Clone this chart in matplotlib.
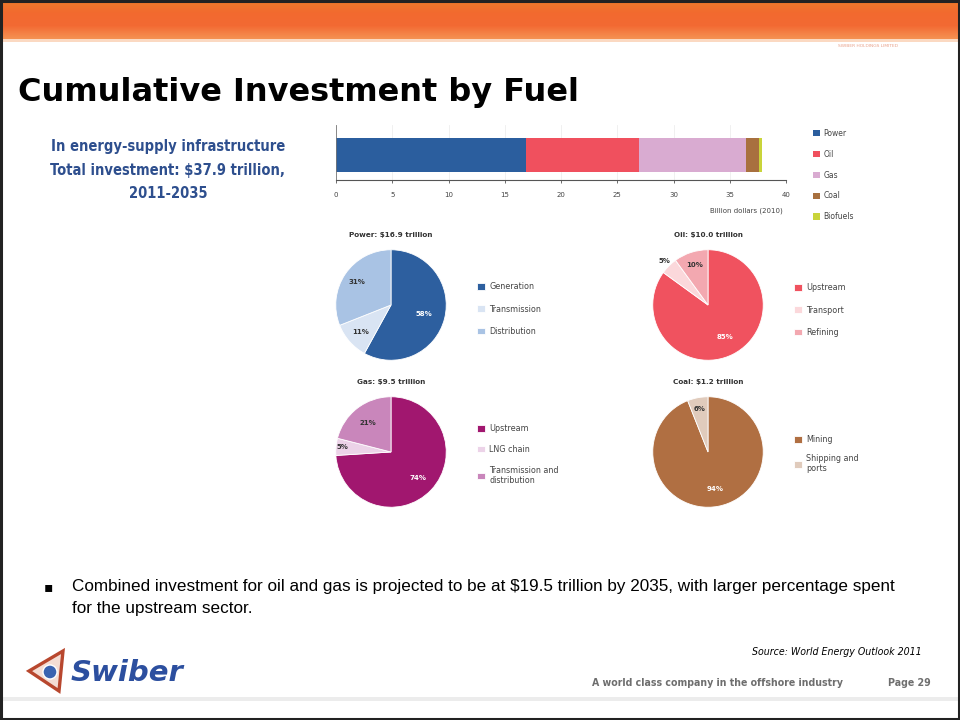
import matplotlib.pyplot as plt
import numpy as np
from matplotlib.patches import Rectangle, Polygon, Circle
from matplotlib.colors import LinearSegmentedColormap

W, H = 960, 720

# investment by fuel, trillion dollars (2010), 2011-2035
fuels = ['Power', 'Oil', 'Gas', 'Coal', 'Biofuels']
fuel_totals = [16.9, 10.0, 9.5, 1.2, 0.3]
fuel_colors = ['#2b5e9e', '#f0505e', '#d9abd1', '#a8703f', '#c9d43a']
bar_ticks = [0, 5, 10, 15, 20, 25, 30, 35, 40]

# shares within each fuel, percent
power_parts = ['Generation', 'Transmission', 'Distribution']
power_shares = [58, 11, 31]
oil_parts = ['Upstream', 'Transport', 'Refining']
oil_shares = [85, 5, 10]
gas_parts = ['Upstream', 'LNG chain', 'Transmission and\ndistribution']
gas_shares = [74, 5, 21]
coal_parts = ['Mining', 'Shipping and\nports']
coal_shares = [94, 6]


def fx(x):
    return x / W


def fy(y):
    return 1 - y / H


fig = plt.figure(figsize=(9.6, 7.2), dpi=100)
fig.patch.set_facecolor('white')

# orange header band, footer rule and frame
bg = fig.add_axes([0, 0, 1, 1], zorder=-5)
bg.set_xlim(0, W)
bg.set_ylim(H, 0)
bg.axis('off')
grad = np.linspace(0, 1, 40).reshape(-1, 1)
hdr = LinearSegmentedColormap.from_list('hdr', ['#ee7b2b', '#f2692f', '#f36a33', '#f59152'])
bg.imshow(grad, cmap=hdr, extent=[0, W, 39, 0], aspect='auto')
bg.add_patch(Rectangle((0, 39), W, 3, color='#fbd9c2', lw=0))
bg.add_patch(Rectangle((0, 697), W, 4, color='#ececec', lw=0))
bg.add_patch(Rectangle((1, 1), W - 2, H - 2, fill=False, ec='#222222', lw=2.2))
bg.text(868, 46, 'SWIBER HOLDINGS LIMITED', fontsize=3.2, color='#e8a088',
        ha='center', va='center')

# logo
bg.add_patch(Polygon([[29, 671], [63, 651], [59, 691]], closed=True,
                     fc='#f4ddd4', ec='#b8472e', lw=2.4))
bg.add_patch(Circle((50, 672), 7, fc='#3a63b0', ec='white', lw=1))
bg.text(71, 673, 'Swiber', fontsize=21, fontweight='heavy', fontstyle='italic',
        color='#2c4f9f', va='center', ha='left')

# titles and notes
fig.text(fx(18), fy(92), 'Cumulative Investment by Fuel', fontsize=23,
         fontweight='heavy', color='black', va='center')
blue_lines = ['In energy-supply infrastructure',
              'Total investment: $%.1f trillion,' % sum(fuel_totals),
              '2011-2035']
for i, line in enumerate(blue_lines):
    fig.text(fx(168), fy(147 + i * 23), line, fontsize=10.5, fontweight='bold',
             fontstretch='condensed', color='#2e4f8e',
             ha='center', va='center')

fig.text(fx(44), fy(587), '\u25aa', fontsize=10, va='center', color='black')
fig.text(fx(72), fy(587), 'Combined investment for oil and gas is projected to be at '
         '$19.5 trillion by 2035, with larger percentage spent',
         fontsize=12.3, family='Liberation Sans', va='center')
fig.text(fx(72), fy(608), 'for the upstream sector.', fontsize=12.3,
         family='Liberation Sans', va='center')
fig.text(fx(922), fy(652), 'Source: World Energy Outlook 2011', fontsize=7.6,
         fontstyle='italic', fontstretch='condensed', ha='right', va='center')
fig.text(fx(843), fy(683), 'A world class company in the offshore industry',
         fontsize=7.6, fontweight='bold', fontstretch='condensed',
         color='#6e6e6e', ha='right', va='center')
fig.text(fx(931), fy(683), 'Page 29', fontsize=7.6, fontweight='bold',
         fontstretch='condensed', color='#6e6e6e', ha='right', va='center')

# stacked bar of totals
ax = fig.add_axes([fx(336), fy(180), fx(786) - fx(336), fy(125) - fy(180)])
left = 0
bars = []
for name, val, col in zip(fuels, fuel_totals, fuel_colors):
    b = ax.barh(0, val, left=left, height=0.62, color=col, label=name)
    bars.append(b)
    left += val
ax.set_xlim(0, 40)
ax.set_ylim(-0.45, 0.55)
ax.set_xticks(bar_ticks)
ax.set_xticklabels([str(t) for t in bar_ticks], fontsize=5, color='#444444')
ax.set_yticks([])
ax.tick_params(axis='x', length=2.5, width=0.6, color='#555555', pad=6)
ax.grid(axis='x', color='#eeeeee', lw=0.6)
ax.set_axisbelow(True)
for s in ['top', 'right']:
    ax.spines[s].set_visible(False)
ax.spines['left'].set_color('#777777')
ax.spines['left'].set_linewidth(0.6)
ax.spines['bottom'].set_color('#555555')
ax.spines['bottom'].set_linewidth(0.8)
fig.text(fx(783), fy(211), 'Billion dollars (2010)', fontsize=5, color='#444444',
         ha='right', va='center')
fig.legend(handles=[b[0] for b in bars], labels=fuels, loc='upper left',
           bbox_to_anchor=(fx(806), fy(122)), frameon=False, fontsize=5.5,
           handlelength=0.9, handleheight=0.9, handletextpad=0.5,
           labelspacing=1.55, labelcolor='#444444')


def draw_pie(cx, cy, title, shares, parts, colors, label_r, label_cols,
             leg_x, leg_y, spacing):
    R = 58
    pax = fig.add_axes([fx(cx - R), fy(cy + R), 2 * R / W, 2 * R / H])
    wedges, _ = pax.pie(shares, colors=colors, startangle=90, counterclock=False,
                        radius=1, wedgeprops=dict(edgecolor='white', linewidth=0.6))
    for w, s, r, c in zip(wedges, shares, label_r, label_cols):
        ang = np.deg2rad((w.theta1 + w.theta2) / 2)
        pax.text(r * np.cos(ang), r * np.sin(ang), '%d%%' % s, fontsize=5,
                 color=c, ha='center', va='center', fontweight='bold')
    pax.set_xlim(-1.05, 1.05)
    pax.set_ylim(-1.05, 1.05)
    pax.set_aspect('equal')
    pax.axis('off')
    fig.text(fx(cx), fy(cy - R - 12), title, fontsize=5.2, color='#333333',
             ha='center', va='center', fontweight='bold')
    fig.legend(handles=wedges, labels=parts, loc='upper left',
               bbox_to_anchor=(fx(leg_x), fy(leg_y)), frameon=False, fontsize=5.8,
               handlelength=0.9, handleheight=0.9, handletextpad=0.6,
               labelspacing=spacing, labelcolor='#444444')


draw_pie(391, 305, 'Power: $%.1f trillion' % fuel_totals[0], power_shares, power_parts,
         ['#2d5f9f', '#d9e4f3', '#a9c3e4'], [0.62, 0.74, 0.74],
         ['white', '#333333', '#333333'], 470, 275, 1.65)
draw_pie(708, 305, 'Oil: $%.1f trillion' % fuel_totals[1], oil_shares, oil_parts,
         ['#f0525f', '#fbd8db', '#f3a8b0'], [0.66, 1.12, 0.76],
         ['white', '#333333', '#333333'], 787, 276, 1.65)
draw_pie(391, 452, 'Gas: $%.1f trillion' % fuel_totals[2], gas_shares, gas_parts,
         ['#a1176f', '#ecd3e8', '#c986bb'], [0.68, 0.88, 0.67],
         ['white', '#333333', '#333333'], 470, 417, 1.45)
draw_pie(708, 452, 'Coal: $%.1f trillion' % fuel_totals[3], coal_shares, coal_parts,
         ['#b06f42', '#e0cbbc'], [0.68, 0.8],
         ['white', '#333333'], 787, 428, 1.2)

plt.savefig('out.png', dpi=100)
